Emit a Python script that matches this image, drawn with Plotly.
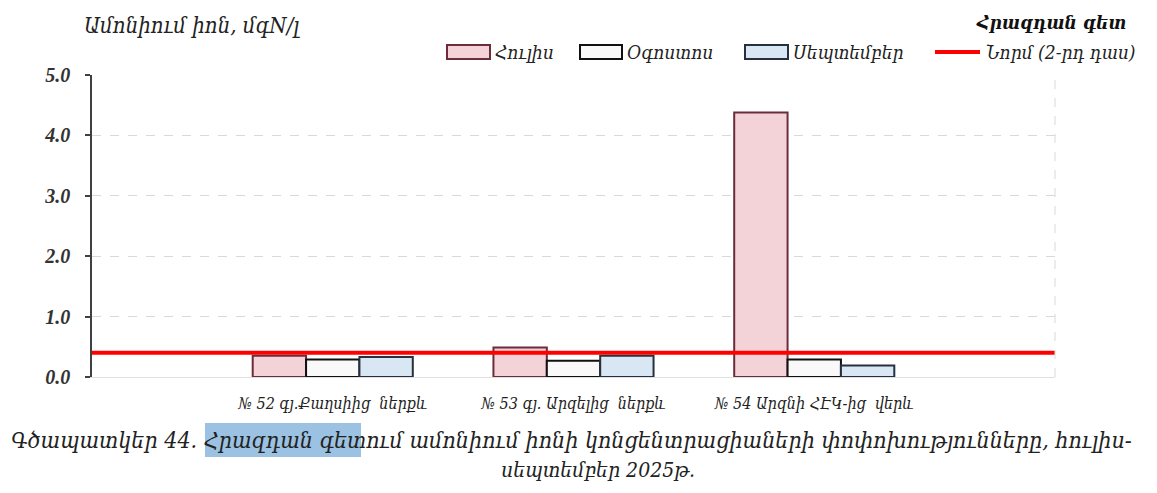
import plotly.graph_objects as go

# ---- data ----
categories = ["№ 52 գյ.Քաղսիից  ներքև", "№ 53 գյ. Արզելից  ներքև", "№ 54 Արզնի ՀԷԿ-ից  վերև"]
series_names = ["Հուլիս", "Օգոստոս", "Սեպտեմբեր"]
july = [0.35, 0.49, 4.38]
august = [0.29, 0.27, 0.29]
september = [0.33, 0.35, 0.19]
norm_value = 0.4
norm_name = "Նորմ (2-րդ դաս)"
y_ticks = [0, 1, 2, 3, 4, 5]
y_tick_labels = ["0.0", "1.0", "2.0", "3.0", "4.0", "5.0"]
y_title = "Ամոնիում իոն, մգN/լ"
chart_title = "Հրազդան գետ"
caption_1 = "Գծապատկեր 44. Հրազդան գետում ամոնիում իոնի կոնցենտրացիաների փոփոխությունները, հուլիս-"
caption_2 = "սեպտեմբեր 2025թ."

ARM = "DejaVu Serif Condensed, DejaVu Serif, serif"
NUM = "Liberation Serif, Times New Roman, serif"

# page body has an 8px margin; plot area in screen px: x 92..1055, y 75..377
PX0, PX1, PY0, PY1 = 92, 1055, 75, 377
def px(x):
    return (x - PX0) / (PX1 - PX0)
def py(y):
    return (PY1 - y) / (PY1 - PY0)

positions = [i + 1 for i in range(len(categories))]

fills = ["#f4d3d8", "#f9f9f9", "#d9e6f4"]
lines = ["#6b2d3b", "#111111", "#27313d"]

fig = go.Figure()
for name, vals, fc, lc in zip(series_names, [july, august, september], fills, lines):
    fig.add_trace(go.Bar(
        x=positions, y=vals, name=name, showlegend=False,
        marker=dict(color=fc, line=dict(color=lc, width=2)),
    ))

fig.add_trace(go.Scatter(
    x=[0, len(categories) + 1], y=[norm_value, norm_value],
    mode="lines", name=norm_name, showlegend=False,
    line=dict(color="#ff0000", width=4),
))

W, H = 1141, 477
fig.update_layout(
    width=W, height=H,
    margin=dict(l=PX0 - 8, r=W - (PX1 - 8), t=PY0 - 8, b=H - (PY1 - 8)),
    paper_bgcolor="white", plot_bgcolor="white",
    barmode="group", bargap=0.335, bargroupgap=0,
    showlegend=False,
    xaxis=dict(
        range=[0, len(categories) + 1],
        tickvals=positions, ticktext=categories,
        tickfont=dict(family=ARM, size=16, color="#222", style="italic"),
        showgrid=False, zeroline=False,
        showline=True, linecolor="#e0e0e0", linewidth=1,
        ticks="", ticklabelstandoff=12,
    ),
    yaxis=dict(
        range=[0, 5], tickvals=y_ticks, ticktext=y_tick_labels,
        tickfont=dict(family=NUM, size=20, color="#333", style="italic", weight="bold"),
        showgrid=True, gridcolor="#d9d9d9", griddash="dash", gridwidth=1,
        zeroline=False, showline=True, linecolor="#404040", linewidth=1.5,
        ticks="outside", ticklen=5, tickcolor="#404040", tickwidth=1.5,
        ticklabelstandoff=11,
    ),
)

# dashed right border of plot area
fig.add_shape(type="line", xref="paper", yref="paper", x0=1, x1=1, y0=0, y1=1,
              line=dict(color="#d9d9d9", width=1, dash="dash"))

# ---- manual legend (wide rectangles like the original) ----
leg_rects = [(447, 490), (580, 622), (745, 788)]
for (x0, x1), fc, lc, name in zip(leg_rects, fills, lines, series_names):
    fig.add_shape(type="rect", xref="paper", yref="paper",
                  x0=px(x0), x1=px(x1), y0=py(59), y1=py(45),
                  fillcolor=fc, line=dict(color=lc, width=2))
    fig.add_annotation(text=name, xref="paper", yref="paper", x=px(x1 + 3), y=py(52),
                       xanchor="left", yanchor="middle", showarrow=False,
                       font=dict(family=ARM, size=19, color="#222", style="italic"))
fig.add_shape(type="line", xref="paper", yref="paper", x0=px(935), x1=px(980), y0=py(52), y1=py(52),
              line=dict(color="#ff0000", width=4))
fig.add_annotation(text=norm_name, xref="paper", yref="paper", x=px(984), y=py(52),
                   xanchor="left", yanchor="middle", showarrow=False,
                   font=dict(family=ARM, size=19, color="#222", style="italic"))

fig.add_annotation(text=y_title, xref="paper", yref="paper", x=px(82), y=py(26),
                   xanchor="left", yanchor="middle", showarrow=False,
                   font=dict(family=ARM, size=22, color="#222", style="italic"))
fig.add_annotation(text="<b>" + chart_title + "</b>", xref="paper", yref="paper", x=px(1128), y=py(22),
                   xanchor="right", yanchor="middle", showarrow=False,
                   font=dict(family=ARM, size=19, color="#111", style="italic"))

# selection highlight behind part of caption
fig.add_shape(type="rect", xref="paper", yref="paper",
              x0=px(205), x1=px(361), y0=py(457), y1=py(423),
              fillcolor="#9cc2e3", line=dict(width=0), layer="below")

fig.add_annotation(text=caption_1, xref="paper", yref="paper", x=px(9), y=py(440),
                   xanchor="left", yanchor="middle", showarrow=False,
                   font=dict(family=ARM, size=23, color="#222", style="italic"))
fig.add_annotation(text=caption_2, xref="paper", yref="paper", x=px(598), y=py(470),
                   xanchor="center", yanchor="middle", showarrow=False,
                   font=dict(family=ARM, size=21, color="#222", style="italic"))

fig.write_html("out.html")
